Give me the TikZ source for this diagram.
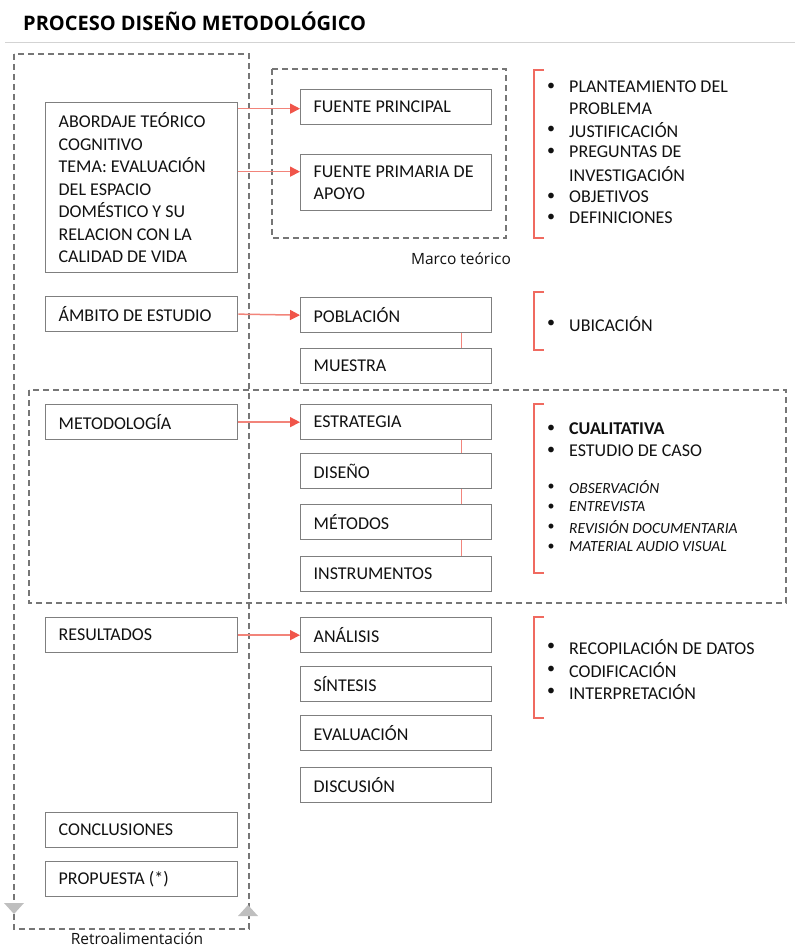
\documentclass[tikz,border=0pt]{standalone}
\usepackage{fontspec}
\setmainfont{Carlito}
\newfontfamily\osans{Open Sans}
\usetikzlibrary{arrows.meta}
\definecolor{boxgray}{HTML}{7F7F7F}
\definecolor{dashgray}{HTML}{767676}
\definecolor{arrline}{HTML}{F2847A}
\definecolor{arrhead}{HTML}{F0554A}
\definecolor{brackred}{HTML}{F06A60}
\definecolor{connred}{HTML}{F2857C}
\definecolor{trigray}{HTML}{BFBFBF}
\definecolor{rulegray}{HTML}{D3D3D3}
\definecolor{txt}{HTML}{111111}
\begin{document}
\begin{tikzpicture}[x=1pt,y=-1pt,
  box/.style={draw=boxgray, line width=1.3pt, rectangle, minimum width=192pt,
    minimum height=35pt, inner xsep=13pt, inner ysep=0pt, text width=166pt,
    align=flush left, anchor=north west, text=txt,
    font=\fontsize{18}{22.5}\selectfont},
  rbox/.style={box, minimum width=191pt, text width=165pt},
  dashbox/.style={draw=dashgray, line width=1.3pt, dash pattern=on 6pt off 4pt},
  arr/.style={draw=arrline, line width=1.5pt,
    -{Triangle[length=10pt,width=10pt,color=arrhead]}},
  conn/.style={draw=connred, line width=1.5pt},
  brack/.style={draw=brackred, line width=1.5pt},
  bul/.style={anchor=center, inner sep=0pt, text=txt, font=\fontsize{16}{22}\selectfont},
  btext/.style={anchor=west, inner sep=0pt, text=txt, font=\fontsize{18}{22}\selectfont},
  itext/.style={anchor=west, inner sep=0pt, text=txt, font=\fontsize{15.5}{18}\selectfont\itshape},
  lab/.style={inner sep=0pt, text=txt, font=\osans\fontsize{15.5}{18}\selectfont}
]
\useasboundingbox (0,0) rectangle (795,949);

% title
\node[anchor=base west, inner sep=0pt, text=black, font=\osans\bfseries\fontsize{20}{24}\selectfont] (title) at (23,31) {PROCESO DISEÑO METODOLÓGICO};
\draw[draw=rulegray, line width=1pt] (5,43) -- (795,43);

% dashed frames
\draw[dashbox] (14,54) rectangle (249,929);
\draw[dashbox] (272,69) rectangle (506,238);
\draw[dashbox] (29,390) rectangle (786,603);

% feedback triangles
\fill[trigray] (4,903) -- (24,903) -- (14,914) -- cycle;
\fill[trigray] (238,916) -- (258,916) -- (248,905) -- cycle;

% left column
\node[box, minimum height=170pt] (abord) at (45,102) {ABORDAJE TEÓRICO\\COGNITIVO\\TEMA: EVALUACIÓN\\DEL ESPACIO\\DOMÉSTICO Y SU\\RELACION CON LA\\CALIDAD DE VIDA};
\node[box] (ambito) at (45,296) {ÁMBITO DE ESTUDIO};
\node[box] (metod) at (45,404) {METODOLOGÍA};
\node[box] (result) at (45,617) {RESULTADOS};
\node[box] (concl) at (45,812) {CONCLUSIONES};
\node[box] (prop) at (45,861) {PROPUESTA (*)};

% right column
\node[rbox] (fp) at (300,89) {FUENTE PRINCIPAL};
\node[rbox, minimum height=56pt] (fpa) at (300,154) {FUENTE PRIMARIA DE\\APOYO};
\node[rbox] (pob) at (300,297) {POBLACIÓN};
\node[rbox] (mue) at (300,348) {MUESTRA};
\node[rbox] (estr) at (300,404) {ESTRATEGIA};
\node[rbox] (dise) at (300,453) {DISEÑO};
\node[rbox] (meto) at (300,504) {MÉTODOS};
\node[rbox] (inst) at (300,556) {INSTRUMENTOS};
\node[rbox] (anal) at (300,617) {ANÁLISIS};
\node[rbox] (sint) at (300,666) {SÍNTESIS};
\node[rbox] (eval) at (300,715) {EVALUACIÓN};
\node[rbox] (disc) at (300,767) {DISCUSIÓN};

% arrows
\coordinate (fpin) at ([yshift=-1.5pt]fp.west);
\coordinate (fpain) at ([yshift=11pt]fpa.west);
\draw[arr] (abord.east |- fpin) -- (fpin);
\draw[arr] (abord.east |- fpain) -- (fpain);
\draw[arr] (ambito.east) -- (pob.west);
\draw[arr] (metod.east |- estr.west) -- (estr.west);
\draw[arr] (result.east) -- (anal.west);

% vertical connectors
\draw[conn] ([xshift=65.5pt]pob.south) -- ([xshift=65.5pt]mue.north);
\draw[conn] ([xshift=65.5pt]estr.south) -- ([xshift=65.5pt]dise.north);
\draw[conn] ([xshift=65.5pt]dise.south) -- ([xshift=65.5pt]meto.north);
\draw[conn] ([xshift=65.5pt]meto.south) -- ([xshift=65.5pt]inst.north);

% labels
\node[lab] (marco) at (461,259) {Marco teórico};
\node[lab] (retro) at (137,939) {Retroalimentación};

% brackets
\draw[brack] (544,70) -- (534,70) -- (534,238) -- (544,238);
\draw[brack] (544,292) -- (534,292) -- (534,350) -- (544,350);
\draw[brack] (544,404) -- (534,404) -- (534,573) -- (544,573);
\draw[brack] (544,617) -- (534,617) -- (534,718) -- (544,718);

% bullet lists
\node[bul] (b1) at (551,87) {\textbullet};
\node[btext] (t1) at (569,87) {PLANTEAMIENTO DEL};
\node[btext] (t1b) at (569,108.5) {PROBLEMA};
\node[bul] (b2) at (551,130) {\textbullet};
\node[btext] (t2) at (569,130) {JUSTIFICACIÓN};
\node[bul] (b3) at (551,152) {\textbullet};
\node[btext] (t3) at (569,152) {PREGUNTAS DE};
\node[btext] (t3b) at (569,174) {INVESTIGACIÓN};
\node[bul] (b4) at (551,197) {\textbullet};
\node[btext] (t4) at (569,197) {OBJETIVOS};
\node[bul] (b5) at (551,218) {\textbullet};
\node[btext] (t5) at (569,218) {DEFINICIONES};

\node[bul] (b6) at (551,324) {\textbullet};
\node[btext] (t6) at (569,324) {UBICACIÓN};

\node[bul] (b7) at (551,429) {\textbullet};
\node[btext, font=\fontsize{18}{22}\selectfont\bfseries] (t7) at (569,429) {CUALITATIVA};
\node[bul] (b8) at (551,451) {\textbullet};
\node[btext] (t8) at (569,451) {ESTUDIO DE CASO};
\node[bul, font=\fontsize{14}{18}\selectfont] (b9) at (551,487) {\textbullet};
\node[itext] (t9) at (569,487) {OBSERVACIÓN};
\node[bul, font=\fontsize{14}{18}\selectfont] (b10) at (551,507) {\textbullet};
\node[itext] (t10) at (569,507) {ENTREVISTA};
\node[bul, font=\fontsize{14}{18}\selectfont] (b11) at (551,527) {\textbullet};
\node[itext] (t11) at (569,527) {REVISIÓN DOCUMENTARIA};
\node[bul, font=\fontsize{14}{18}\selectfont] (b12) at (551,547) {\textbullet};
\node[itext] (t12) at (569,547) {MATERIAL AUDIO VISUAL};

\node[bul] (b13) at (551,647) {\textbullet};
\node[btext] (t13) at (569,647) {RECOPILACIÓN DE DATOS};
\node[bul] (b14) at (551,670) {\textbullet};
\node[btext] (t14) at (569,670) {CODIFICACIÓN};
\node[bul] (b15) at (551,692) {\textbullet};
\node[btext] (t15) at (569,692) {INTERPRETACIÓN};
\end{tikzpicture}
\end{document}
